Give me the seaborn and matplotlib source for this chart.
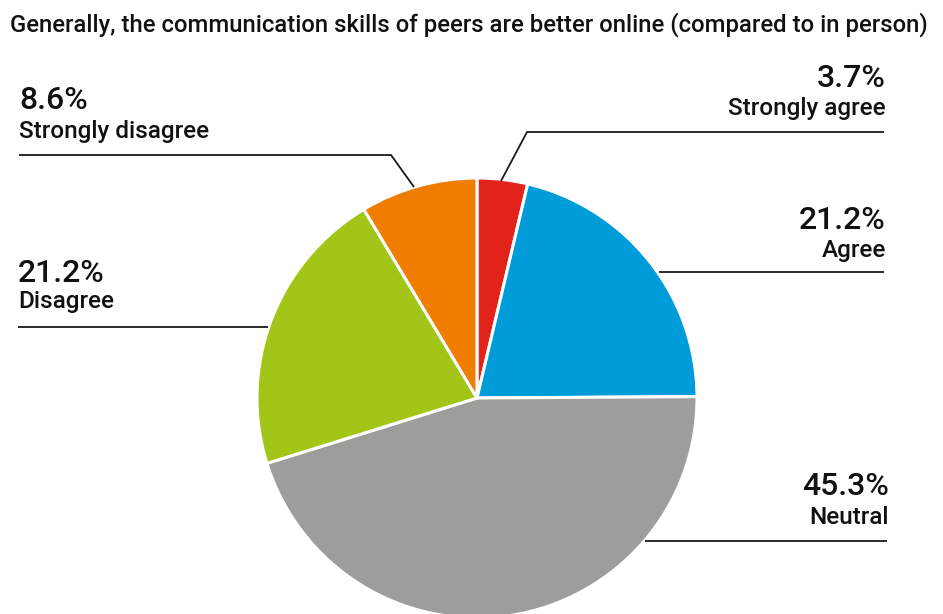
import matplotlib
matplotlib.use("Agg")
import matplotlib.pyplot as plt
import seaborn as sns

# Survey responses
categories = ["Strongly agree", "Agree", "Neutral", "Disagree", "Strongly disagree"]
shares = [3.7, 21.2, 45.3, 21.2, 8.6]
pct_labels = ["3.7%", "21.2%", "45.3%", "21.2%", "8.6%"]
colors = ["#E2231A", "#009CDA", "#9D9D9C", "#A3C517", "#EF7D00"]
title = "Generally, the communication skills of peers are better online (compared to in person)"

sns.set_theme(style="white")
plt.rcParams["font.family"] = ["Roboto", "DejaVu Sans"]

W, H = 943, 614
fig = plt.figure(figsize=(W / 100, H / 100), dpi=100)
ax = fig.add_axes([0, 0, 1, 1])


def fy(py):
    """Convert a top-down pixel row into axis y."""
    return H - py


cx, cy, r = 477, 398, 220
ax.pie(shares, colors=colors, startangle=90, counterclock=False,
       center=(cx, fy(cy)), radius=r,
       wedgeprops=dict(edgecolor="white", linewidth=2.2))
ax.set_xlim(0, W)
ax.set_ylim(0, H)
ax.set_aspect("equal")
ax.axis("off")

# Leader lines (pixel polylines)
leaders = {
    "Strongly agree": [(501, 181), (527, 132), (884, 132)],
    "Agree": [(659, 272), (884, 272)],
    "Neutral": [(645, 541), (887, 541)],
    "Disagree": [(18, 327), (268, 327)],
    "Strongly disagree": [(19, 155), (391, 155), (414, 187)],
}
for pts in leaders.values():
    xs = [p[0] for p in pts]
    ys = [fy(p[1]) for p in pts]
    ax.plot(xs, ys, color="#1a1a1a", lw=1.3, solid_capstyle="butt")

# Label placement: (x, pct baseline, name baseline, alignment)
label_pos = {
    "Strongly agree": (886, 87, 115, "right"),
    "Agree": (886, 229, 257, "right"),
    "Neutral": (889, 495, 524, "right"),
    "Disagree": (18, 282, 308, "left"),
    "Strongly disagree": (19, 109, 138, "left"),
}
for cat, pct in zip(categories, pct_labels):
    x, yp, yn, ha = label_pos[cat]
    ax.text(x, fy(yp), pct, ha=ha, va="baseline", fontsize=23,
            fontweight="medium", color="#111111")
    ax.text(x, fy(yn), cat, ha=ha, va="baseline", fontsize=17.5,
            fontweight="medium", color="#111111")

ax.text(10, fy(32), title, ha="left", va="baseline", fontsize=17.2,
        fontweight="medium", color="#111111")

fig.savefig("out.png", dpi=100)
